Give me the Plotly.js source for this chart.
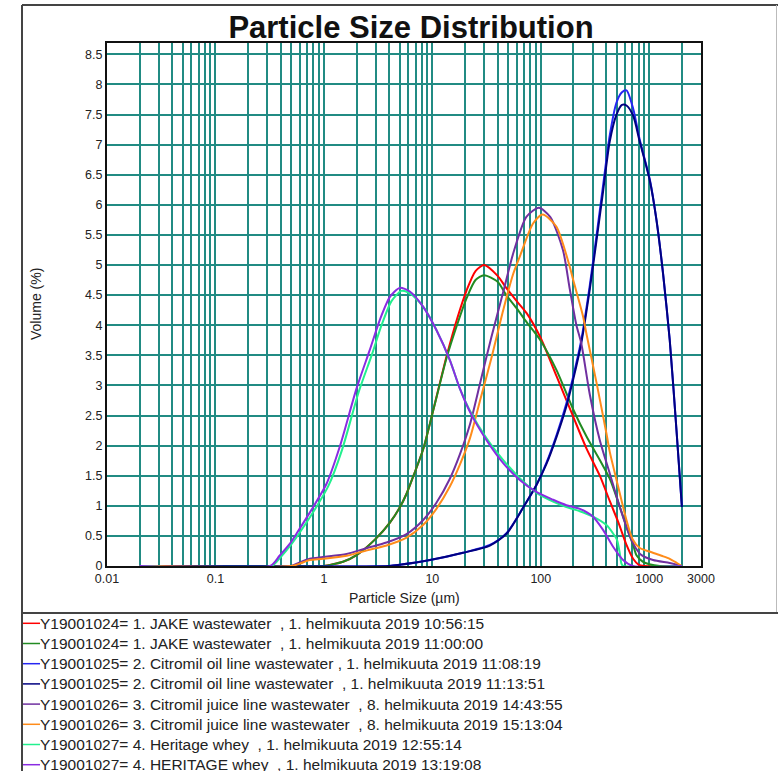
<!DOCTYPE html>
<html>
<head>
<meta charset="utf-8">
<script src="https://cdn.plot.ly/plotly-3.0.1.min.js"></script>
<style>html,body{margin:0;padding:0;background:#fff;}#chart{width:778px;height:771px;}</style>
</head>
<body>
<div id="chart"></div>
<script>
// ---------------- data ----------------
const seriesNames = [
  "Y19001024= 1. JAKE wastewater \u00a0, 1. helmikuuta 2019 10:56:15",
  "Y19001024= 1. JAKE wastewater \u00a0, 1. helmikuuta 2019 11:00:00",
  "Y19001025= 2. Citromil oil line wastewater , 1. helmikuuta 2019 11:08:19",
  "Y19001025= 2. Citromil oil line wastewater \u00a0, 1. helmikuuta 2019 11:13:51",
  "Y19001026= 3. Citromil juice line wastewater \u00a0, 8. helmikuuta 2019 14:43:55",
  "Y19001026= 3. Citromil juice line wastewater \u00a0, 8. helmikuuta 2019 15:13:04",
  "Y19001027= 4. Heritage whey \u00a0, 1. helmikuuta 2019 12:55:14",
  "Y19001027= 4. HERITAGE whey \u00a0, 1. helmikuuta 2019 13:19:08"
];
const seriesColors = ["#ff0000", "#228b22", "#2626f2", "#000080", "#7030a0", "#ff8c1a", "#22f08e", "#8a2be2"];

const redX = [0.02, 0.9, 1.0, 1.5, 2.0, 3.0, 4.06, 5.0, 5.78, 6.7, 8.2, 10.2, 13.5, 17, 20.7, 25, 30, 40, 48, 60, 74, 99, 140, 199, 264, 350, 432, 520, 617, 710, 800, 900, 2000];
const redY = [0, 0, 0.0, 0.07, 0.18, 0.45, 0.72, 0.97, 1.2, 1.5, 1.93, 2.59, 3.48, 4.12, 4.58, 4.9, 5.0, 4.82, 4.62, 4.4, 4.2, 3.8, 3.15, 2.48, 1.95, 1.5, 1.08, 0.72, 0.35, 0.12, 0.02, 0, 0];

const greenX = [0.02, 0.9, 1.0, 1.5, 2.0, 3.0, 4.06, 5.0, 5.78, 6.7, 8.2, 10.2, 13.5, 17, 20.7, 25, 30, 40, 48, 60, 74, 99, 140, 199, 264, 350, 432, 520, 617, 710, 762, 877, 1000, 1250, 2000];
const greenY = [0, 0, 0.0, 0.07, 0.18, 0.45, 0.72, 0.97, 1.2, 1.5, 1.93, 2.59, 3.45, 4.02, 4.45, 4.75, 4.83, 4.72, 4.5, 4.28, 4.05, 3.75, 3.25, 2.6, 2.15, 1.76, 1.45, 1.05, 0.65, 0.35, 0.18, 0.07, 0.03, 0, 0];

const blueX = [0.02, 4, 5, 9.5, 19.2, 33.9, 48.5, 69.2, 91.4, 113, 140, 172, 199, 236, 283, 326, 375, 432, 499, 560, 617, 710, 817, 1012, 1165, 1340, 1545, 1782, 2000];
const blueY = [0, 0, 0.02, 0.1, 0.22, 0.35, 0.55, 0.98, 1.35, 1.72, 2.18, 2.7, 3.15, 3.75, 4.66, 5.48, 6.32, 7.15, 7.7, 7.87, 7.9, 7.6, 7.08, 6.42, 5.75, 4.86, 3.75, 2.26, 0.98];

const navyX = [0.02, 4, 5, 9.5, 19.2, 33.9, 48.5, 69.2, 91.4, 113, 140, 172, 199, 236, 283, 326, 375, 432, 499, 560, 617, 710, 817, 1012, 1165, 1340, 1545, 1782, 2000];
const navyY = [0, 0, 0.02, 0.1, 0.22, 0.34, 0.54, 0.98, 1.35, 1.7, 2.15, 2.65, 3.1, 3.7, 4.6, 5.4, 6.22, 7.05, 7.5, 7.66, 7.65, 7.48, 7.05, 6.4, 5.75, 4.86, 3.75, 2.26, 0.98];

const purpleX = [0.02, 0.5, 0.6, 0.74, 0.98, 1.62, 2.5, 3.78, 5.78, 8.2, 10.9, 14.5, 17.9, 22.2, 28, 35, 45, 55.6, 73.6, 96, 122, 160, 185, 213, 236, 283, 350, 432, 535, 661, 750, 850, 1084, 1545, 1910, 2000];
const purpleY = [0, 0, 0.06, 0.12, 0.15, 0.2, 0.3, 0.39, 0.53, 0.76, 1.05, 1.45, 1.85, 2.35, 3.09, 3.8, 4.55, 5.19, 5.8, 5.95, 5.8, 5.25, 4.6, 4.0, 3.7, 2.85, 2.09, 1.54, 0.98, 0.5, 0.3, 0.18, 0.1, 0.05, 0.01, 0];

const orangeX = [0.02, 0.5, 0.6, 0.74, 0.98, 1.62, 2.5, 3.78, 5.78, 8.2, 10.9, 14.5, 17.9, 22.2, 28, 35, 45, 55.6, 64, 84.8, 104, 139, 183, 199, 245, 264, 326, 403, 432, 499, 617, 700, 817, 1000, 1300, 1545, 1800, 2000];
const orangeY = [0, 0, 0.04, 0.1, 0.12, 0.17, 0.26, 0.34, 0.47, 0.68, 0.95, 1.32, 1.68, 2.12, 2.8, 3.45, 4.25, 4.85, 5.14, 5.69, 5.84, 5.64, 5.0, 4.75, 4.15, 3.85, 3.05, 2.2, 1.9, 1.43, 0.76, 0.45, 0.3, 0.24, 0.17, 0.12, 0.05, 0];

const cyanX = [0.02, 0.33, 0.4, 0.5, 0.58, 0.8, 1.1, 1.47, 2.1, 2.78, 3.4, 4.2, 5.2, 6.3, 8.3, 10.9, 14.5, 17.9, 22.2, 31.6, 45, 64, 91, 130, 172, 229, 303, 403, 464, 505, 535, 554, 575, 2000];
const cyanY = [0, 0, 0.15, 0.36, 0.52, 0.9, 1.33, 1.93, 2.9, 3.52, 4.0, 4.4, 4.57, 4.52, 4.3, 3.92, 3.42, 2.95, 2.58, 2.12, 1.76, 1.46, 1.22, 1.07, 0.98, 0.91, 0.82, 0.68, 0.54, 0.43, 0.21, 0.04, 0, 0];

const violetX = [0.02, 0.32, 0.39, 0.49, 0.56, 0.76, 1.06, 1.4, 2.0, 2.65, 3.28, 4.06, 5.0, 6.2, 8.2, 10.9, 14.5, 17.9, 22.2, 31.6, 45, 64, 91, 130, 172, 229, 303, 375, 464, 574, 705, 2000];
const violetY = [0, 0, 0.17, 0.38, 0.54, 0.92, 1.37, 1.98, 2.95, 3.59, 4.09, 4.47, 4.62, 4.56, 4.31, 3.92, 3.42, 2.95, 2.56, 2.09, 1.71, 1.43, 1.23, 1.1, 1.01, 0.95, 0.82, 0.6, 0.32, 0.1, 0, 0];

const yTickStep = 0.5;
const xLabelValues = [0.01, 0.1, 1, 10, 100, 1000, 3000];
const xLabelTexts = ["0.01", "0.1", "1", "10", "100", "1000", "3000"];
const xMax = 3000, xMin = 0.01, yMax = 8.688;

// ---------------- layout helpers ----------------
const L = 107, T = 43, PW = 594, PH = 523, W = 778, H = 771;
const px = x => (x - L) / PW;
const py = y => (T + PH - y) / PH;

// grid positions: 1..9 multiples per decade up to 2000, plus labelled ticks
const gridVals = [];
for (let e = -2; e <= 3; e++) {
  for (let m = 1; m <= 9; m++) {
    const v = m * Math.pow(10, e);
    if (v <= 2000 + 1e-9) gridVals.push(v);
  }
}
gridVals.push(3000);
const gridTexts = gridVals.map(v => {
  const i = xLabelValues.findIndex(l => Math.abs(l - v) / l < 1e-6);
  return i >= 0 ? xLabelTexts[i] : "";
});

const xs = [redX, greenX, blueX, navyX, purpleX, orangeX, cyanX, violetX];
const ys = [redY, greenY, blueY, navyY, purpleY, orangeY, cyanY, violetY];

const traces = xs.map((x, i) => ({
  type: "scatter", mode: "lines", x: x, y: ys[i], name: seriesNames[i],
  line: {color: seriesColors[i], width: 2, shape: "spline", smoothing: 0.7},
  showlegend: false, hoverinfo: "skip"
}));

const gridColor = "#218b83";
const frameColor = "#444";
const fam = "Liberation Sans, Arial, sans-serif";
const shapes = [
  {type: "line", xref: "paper", yref: "paper", x0: px(22), x1: px(22), y0: py(5), y1: py(790), line: {color: frameColor, width: 2}},
  {type: "line", xref: "paper", yref: "paper", x0: px(22), x1: px(790), y0: py(5), y1: py(5), line: {color: frameColor, width: 2}},
  {type: "line", xref: "paper", yref: "paper", x0: px(776.5), x1: px(776.5), y0: py(5), y1: py(613), line: {color: "#bbb", width: 1}},
  {type: "line", xref: "paper", yref: "paper", x0: px(22), x1: px(790), y0: py(613), y1: py(613), line: {color: frameColor, width: 2}}
];
const annotations = [
  {text: "Volume (%)", xref: "paper", yref: "paper", x: px(36), y: py(304), textangle: -90,
   showarrow: false, xanchor: "center", yanchor: "middle", font: {size: 14, color: "#222", family: fam}},
  {text: "Particle Size (µm)", xref: "paper", yref: "paper", x: px(404.5), y: py(598),
   showarrow: false, xanchor: "center", yanchor: "middle", font: {size: 14, color: "#222", family: fam}}
];
seriesNames.forEach((n, i) => {
  const rowY = 623.3 + i * 20.2;
  shapes.push({type: "line", xref: "paper", yref: "paper", x0: px(23), x1: px(40), y0: py(rowY), y1: py(rowY),
    line: {color: seriesColors[i], width: 1.5}});
  annotations.push({text: n, xref: "paper", yref: "paper", x: px(39), y: py(rowY), showarrow: false,
    xanchor: "left", yanchor: "middle", borderpad: 0,
    font: {size: 15.5, color: "#222", family: fam}});
});

const layout = {
  width: W, height: H,
  margin: {l: L, r: W - L - PW, t: T, b: H - T - PH, pad: 0},
  paper_bgcolor: "#fff", plot_bgcolor: "#fff",
  font: {family: fam, color: "#222", size: 12},
  title: {text: "<b>Particle Size Distribution</b>", x: 411 / W, xref: "container", xanchor: "center",
          y: 1 - 27.5 / H, yref: "container", yanchor: "middle",
          font: {size: 31, color: "#111", family: fam}},
  showlegend: false,
  xaxis: {
    type: "log", range: [Math.log10(xMin), Math.log10(xMax)], autorange: false,
    tickmode: "array", tickvals: gridVals, ticktext: gridTexts,
    showgrid: true, gridcolor: gridColor, gridwidth: 2, zeroline: false,
    showline: true, linecolor: "#111", linewidth: 2, mirror: true, ticks: "",
    tickfont: {size: 12.5, color: "#222"}, layer: "below traces"
  },
  yaxis: {
    range: [0, yMax], autorange: false, tick0: 0, dtick: yTickStep,
    showgrid: true, gridcolor: gridColor, gridwidth: 2, zeroline: false,
    showline: true, linecolor: "#111", linewidth: 2, mirror: true, ticks: "",
    tickfont: {size: 12.5, color: "#222"}, layer: "below traces"
  },
  shapes: shapes,
  annotations: annotations
};

Plotly.newPlot("chart", traces, layout, {displayModeBar: false, staticPlot: true});
</script>
</body>
</html>
